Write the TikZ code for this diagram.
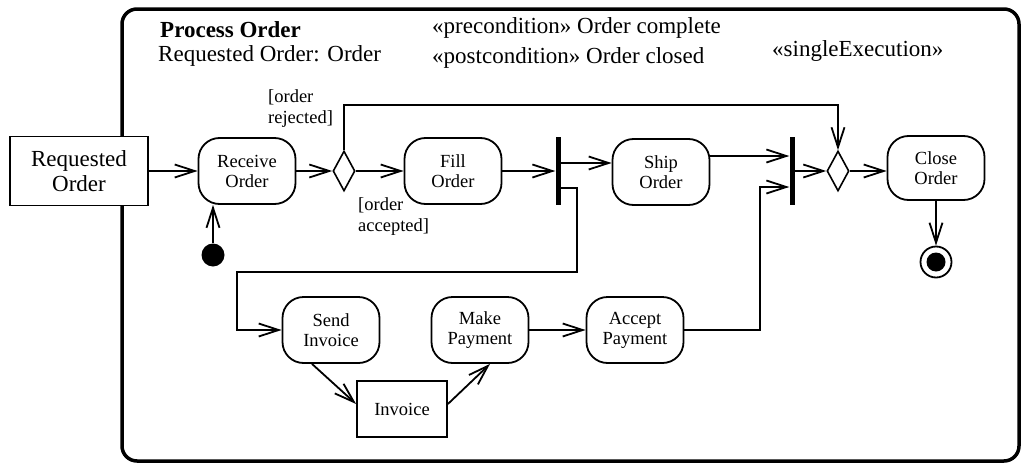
\documentclass[tikz,border=0pt]{standalone}
\usepackage{fontspec}
\setmainfont{Liberation Serif}
\usetikzlibrary{arrows.meta,shapes.geometric}

\tikzset{
  action/.style={draw, rounded corners=21pt, line width=1.8pt, minimum width=97pt,
    minimum height=66pt, align=center, inner sep=2pt, font=\fontsize{18.5}{20}\selectfont},
  objnode/.style={draw, fill=white, line width=1.8pt, align=center, inner sep=2pt},
  decision/.style={draw, diamond, line width=1.6pt, minimum width=22pt, minimum height=40pt, inner sep=0pt},
  syncbar/.style={fill=black, minimum width=5pt, minimum height=68pt, inner sep=0pt},
  flow/.style={line width=1.8pt, -{Straight Barb[length=20pt,width=13pt]}},
  guard/.style={align=left, anchor=west, inner sep=0pt, font=\fontsize{18.5}{21}\selectfont},
  head/.style={anchor=west, inner sep=0pt, font=\fontsize{23}{26}\selectfont},
}

\begin{document}
\begin{tikzpicture}[x=1pt,y=-1pt]
\useasboundingbox (0,0) rectangle (1022,463);

% activity frame
\draw[line width=3.5pt, rounded corners=15pt] (122,9) rectangle (1019,461);

% header
\node[head, font=\fontsize{23}{26}\selectfont\bfseries] (title) at (160,30) {Process Order};
\node[head] (param) at (158,56) {Requested Order: Order};
\node[head] (pre) at (432,28) {«precondition» Order complete};
\node[head] (post) at (432,58) {«postcondition» Order closed};
\node[head] (single) at (772,51) {«singleExecution»};

% main row
\node[objnode, minimum width=138pt, minimum height=69pt, font=\fontsize{23}{25}\selectfont] (req) at (79,171) {Requested\\Order};
\node[action] (recv) at (247,171) {Receive\\Order};
\node[decision] (d1) at (344,171) {};
\node[action] (fill) at (453,171) {Fill\\Order};
\node[syncbar] (fork) at (558,171) {};
\node[action] (ship) at (661,172) {Ship\\Order};
\node[syncbar] (join) at (792,171) {};
\node[decision] (d2) at (838,171) {};
\node[action, minimum height=64pt] (close) at (936,168) {Close\\Order};

% start and end
\node[circle, fill=black, minimum size=23pt, inner sep=0pt] (init) at (213,255) {};
\node[circle, draw, line width=1.8pt, minimum size=31pt, inner sep=0pt] (final) at (936,262) {};
\node[circle, fill=black, minimum size=19pt, inner sep=0pt] (finaldot) at (final.center) {};

% invoice row
\node[action] (send) at (331,330) {Send\\Invoice};
\node[action] (make) at (480,330) {Make\\Payment};
\node[action] (accept) at (635,330) {Accept\\Payment};
\node[objnode, minimum width=90pt, minimum height=56pt, font=\fontsize{18.5}{20}\selectfont] (inv) at (402,409) {Invoice};

% routing points
\coordinate (rej) at (600,105);
\coordinate (c1) at (577,272);
\coordinate (c2) at (237,272);
\coordinate (c3) at (760,187);

% flows
\draw[flow] (req) -- (recv);
\draw[flow] (recv) -- (d1);
\draw[flow] (d1) -- (fill);
\draw[flow] (fill) -- (fork);
\draw[flow] ([yshift=8pt]fork.east) -- ([yshift=9pt]ship.west);
\draw[flow] ([yshift=16pt]ship.east) -- ([yshift=15pt]join.west);
\draw[flow] (join) -- (d2);
\draw[flow] (d2.east) -- (d2.east -| close.west);
\draw[flow] (d1.north) |- (rej) -| (d2.north);
\draw[flow] (init.north) -- (init.north |- recv.south);
\draw[flow] (close.south) -- (final.north);
\draw[flow] ([yshift=-17pt]fork.east) -| (c1) -- (c2) |- (send.west);
\draw[flow] ([xshift=-19pt]send.south) -- ([yshift=5pt]inv.west);
\draw[flow] ([yshift=5pt]inv.east) -- ([xshift=10pt]make.south);
\draw[flow] (make) -- (accept);
\draw[flow] (accept.east) -| (c3) -- ([yshift=-16pt]join.west);

% guards
\node[guard] (lrej) at (268,109) {[order\\rejected]};
\node[guard] (lacc) at (358,217) {[order\\accepted]};
\end{tikzpicture}
\end{document}
